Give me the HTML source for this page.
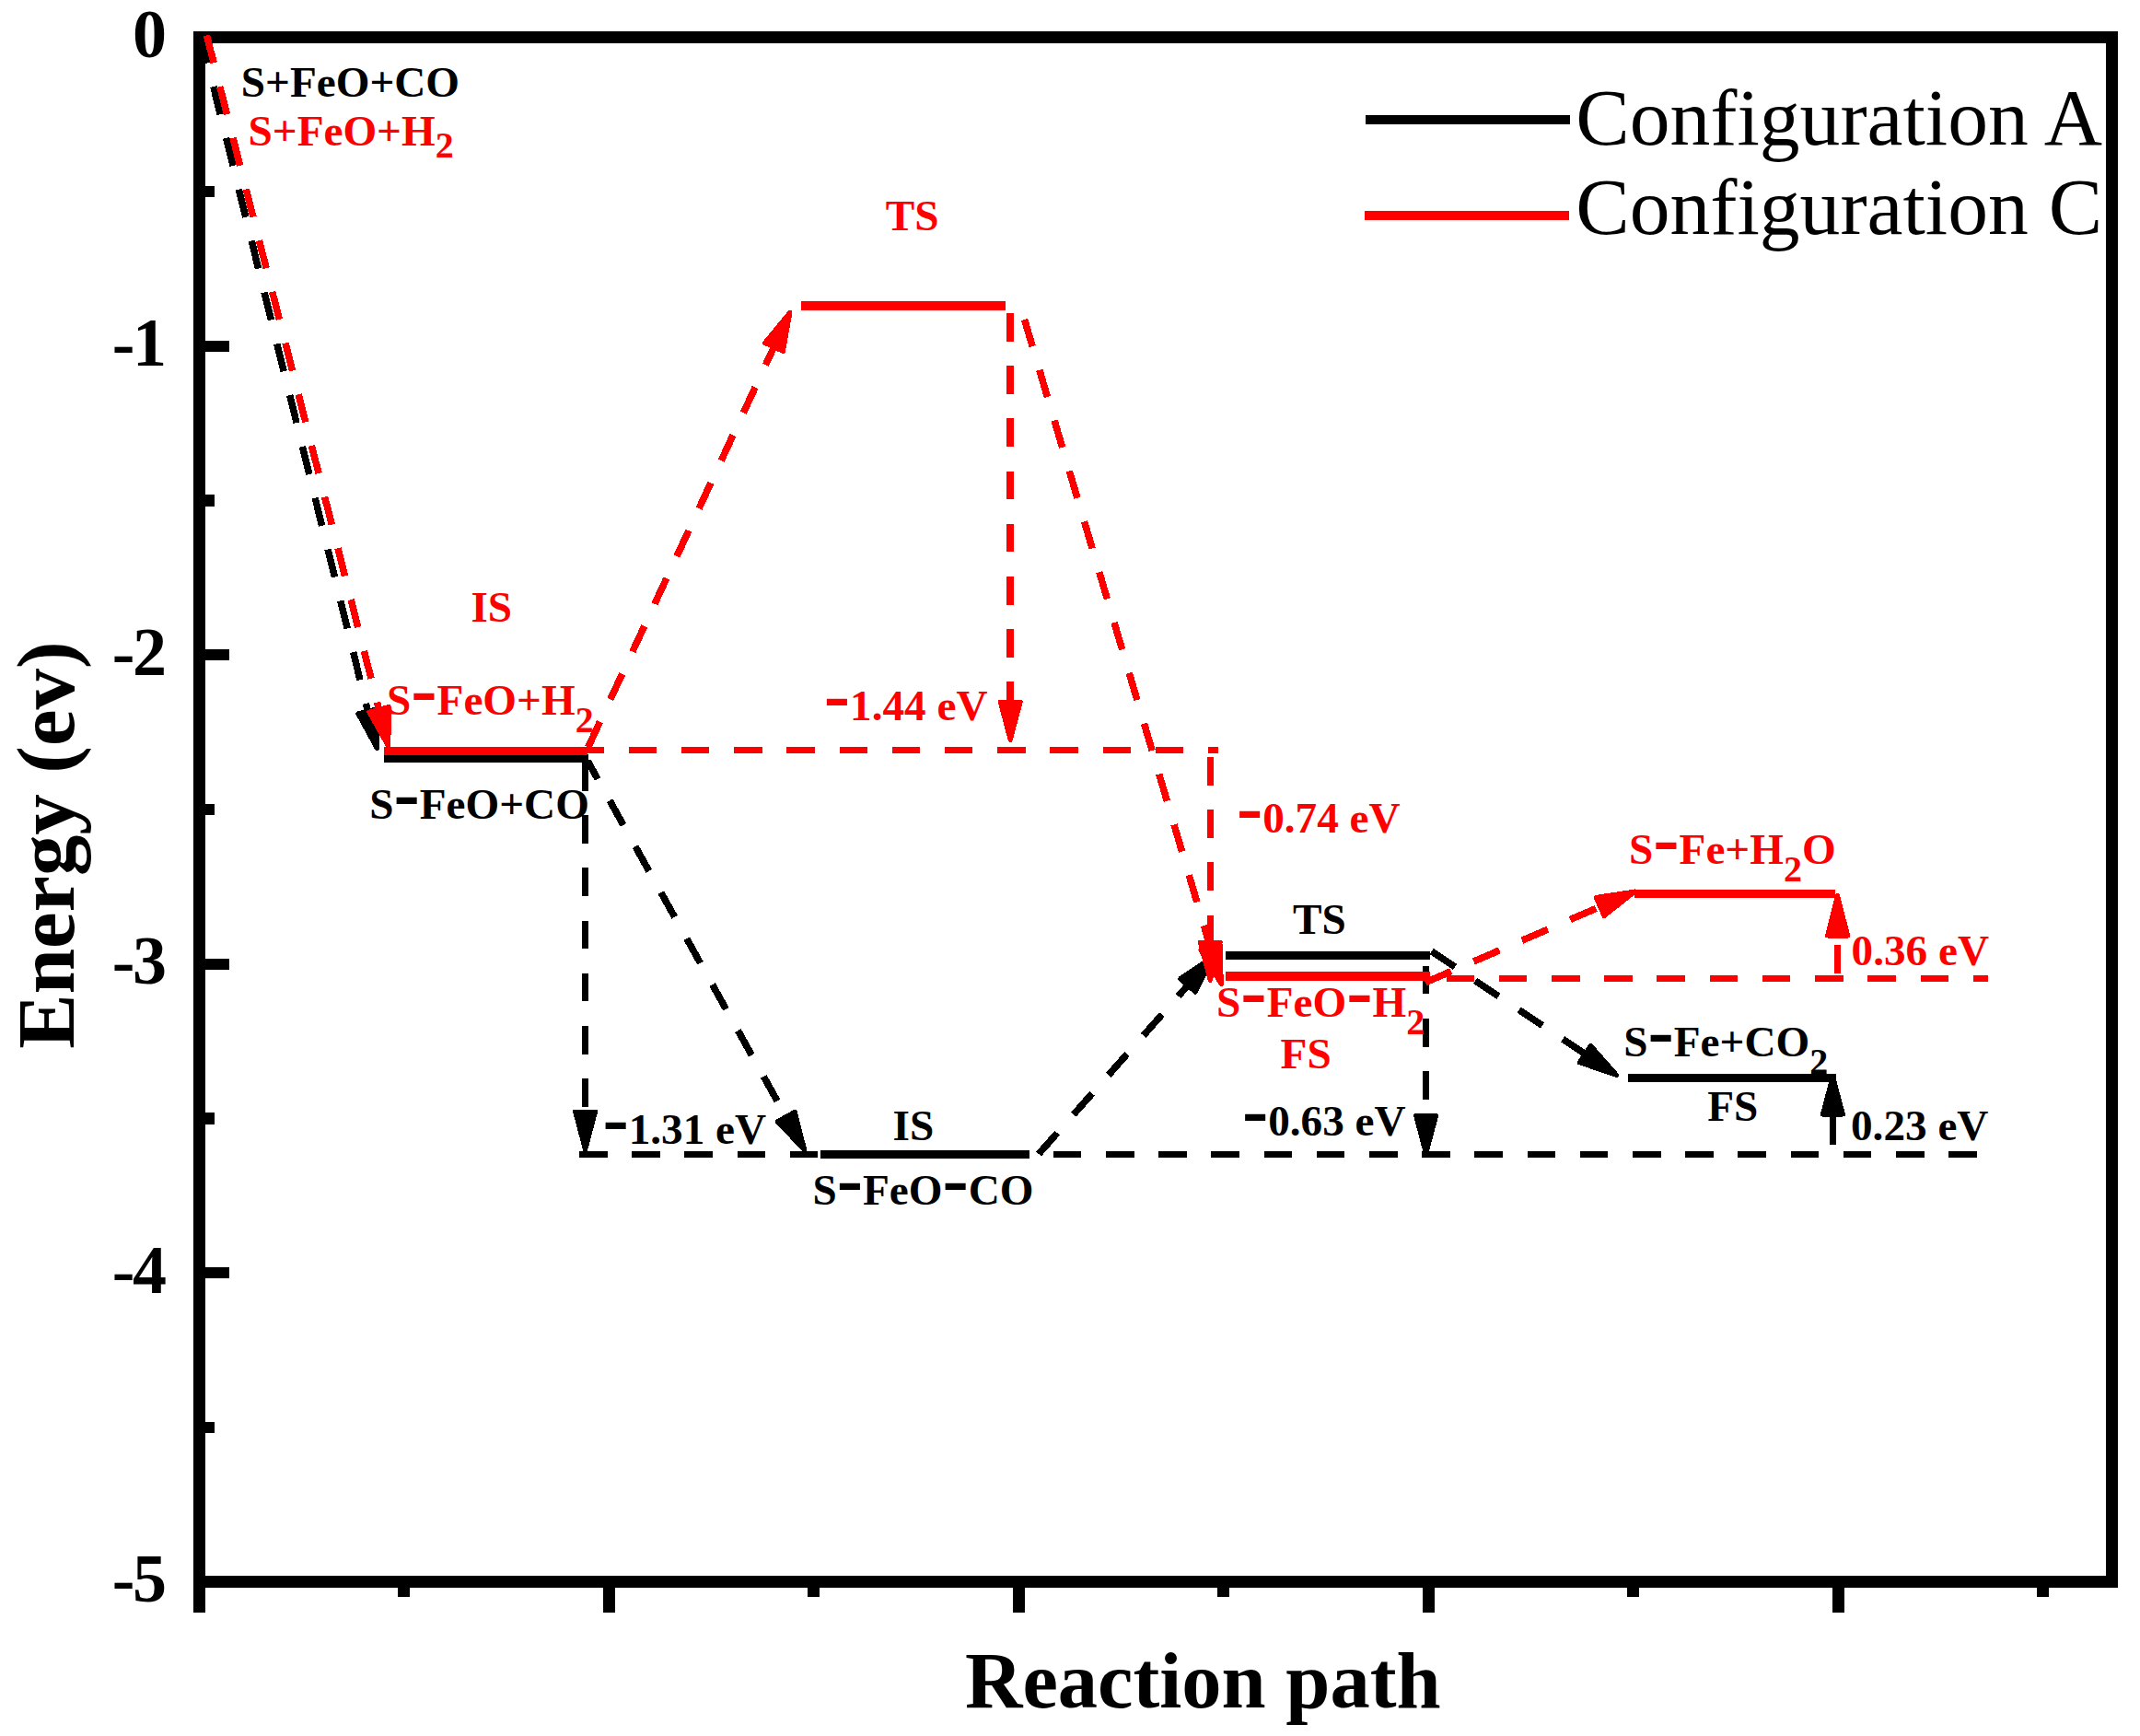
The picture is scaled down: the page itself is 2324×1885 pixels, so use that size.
<!DOCTYPE html>
<html><head><meta charset="utf-8"><title>Energy profile</title>
<style>
html,body{margin:0;padding:0;background:#fff;}
body{width:2324px;height:1885px;overflow:hidden;}
svg{display:block;font-family:"Liberation Serif","Times New Roman",serif;}
</style></head><body>
<svg width="2324" height="1885" viewBox="0 0 2324 1885" shape-rendering="crispEdges">
<rect width="2324" height="1885" fill="#fff"/>
<rect x="216.5" y="40.4" width="2077.1" height="1677.1999999999998" fill="none" stroke="#000" stroke-width="13"/>
<line x1="216.5" y1="1717.6" x2="216.5" y2="1751" stroke="#000000" stroke-width="13"/>
<text x="181" y="61.9" fill="#000000" font-size="74" font-weight="bold" text-anchor="end">0</text>
<line x1="216.5" y1="208.11999999999998" x2="233" y2="208.11999999999998" stroke="#000000" stroke-width="12.2"/>
<line x1="216.5" y1="375.8399999999999" x2="249" y2="375.8399999999999" stroke="#000000" stroke-width="12.2"/>
<text x="181" y="397.3" fill="#000000" font-size="74" font-weight="bold" text-anchor="end" dx="0 -2.5">-1</text>
<line x1="216.5" y1="543.56" x2="233" y2="543.56" stroke="#000000" stroke-width="12.2"/>
<line x1="216.5" y1="711.2799999999999" x2="249" y2="711.2799999999999" stroke="#000000" stroke-width="12.2"/>
<text x="181" y="732.8" fill="#000000" font-size="74" font-weight="bold" text-anchor="end" dx="0 -2.5">-2</text>
<line x1="216.5" y1="878.9999999999999" x2="233" y2="878.9999999999999" stroke="#000000" stroke-width="12.2"/>
<line x1="216.5" y1="1046.7199999999998" x2="249" y2="1046.7199999999998" stroke="#000000" stroke-width="12.2"/>
<text x="181" y="1068.2" fill="#000000" font-size="74" font-weight="bold" text-anchor="end" dx="0 -2.5">-3</text>
<line x1="216.5" y1="1214.4399999999998" x2="233" y2="1214.4399999999998" stroke="#000000" stroke-width="12.2"/>
<line x1="216.5" y1="1382.1599999999999" x2="249" y2="1382.1599999999999" stroke="#000000" stroke-width="12.2"/>
<text x="181" y="1403.7" fill="#000000" font-size="74" font-weight="bold" text-anchor="end" dx="0 -2.5">-4</text>
<line x1="216.5" y1="1549.8799999999999" x2="233" y2="1549.8799999999999" stroke="#000000" stroke-width="12.2"/>
<text x="181" y="1739.1" fill="#000000" font-size="74" font-weight="bold" text-anchor="end" dx="0 -2.5">-5</text>
<line x1="438.95" y1="1717.6" x2="438.95" y2="1733.7" stroke="#000000" stroke-width="13"/>
<line x1="661.4" y1="1717.6" x2="661.4" y2="1751" stroke="#000000" stroke-width="13"/>
<line x1="883.8499999999999" y1="1717.6" x2="883.8499999999999" y2="1733.7" stroke="#000000" stroke-width="13"/>
<line x1="1106.3" y1="1717.6" x2="1106.3" y2="1751" stroke="#000000" stroke-width="13"/>
<line x1="1328.75" y1="1717.6" x2="1328.75" y2="1733.7" stroke="#000000" stroke-width="13"/>
<line x1="1551.1999999999998" y1="1717.6" x2="1551.1999999999998" y2="1751" stroke="#000000" stroke-width="13"/>
<line x1="1773.6499999999999" y1="1717.6" x2="1773.6499999999999" y2="1733.7" stroke="#000000" stroke-width="13"/>
<line x1="1996.1" y1="1717.6" x2="1996.1" y2="1751" stroke="#000000" stroke-width="13"/>
<line x1="2218.55" y1="1717.6" x2="2218.55" y2="1733.7" stroke="#000000" stroke-width="13"/>
<text x="1306.3" y="1854" fill="#000000" font-size="86.5" font-weight="bold" text-anchor="middle">Reaction path</text>
<text transform="translate(80.2,917.6) rotate(-90)" font-size="89" font-weight="bold" text-anchor="middle">Energy (ev)</text>
<line x1="1483" y1="130" x2="1705" y2="130" stroke="#000000" stroke-width="9.9"/>
<line x1="1482" y1="234" x2="1704" y2="234" stroke="#ff0000" stroke-width="9.8"/>
<text x="1711.3" y="156.8" fill="#000000" font-size="87.6" font-weight="normal" text-anchor="start">Configuration A</text>
<text x="1711.3" y="253.5" fill="#000000" font-size="87.6" font-weight="normal" text-anchor="start">Configuration C</text>
<line x1="218" y1="38.3" x2="401.1" y2="778.9" stroke="#000000" stroke-width="7.5" stroke-dasharray="31 26.5" stroke-dashoffset="0"/>
<polygon points="409.4,812.6 388.8,774.9 410.1,769.6" fill="#000000" stroke="#000000" stroke-width="5.0" stroke-linejoin="round"/>
<line x1="416.5" y1="823.7" x2="638.6" y2="823.7" stroke="#000000" stroke-width="8.8"/>
<line x1="635.6" y1="828" x2="635.6" y2="1213.8" stroke="#000000" stroke-width="7.5" stroke-dasharray="30.5 26.7" stroke-dashoffset="0"/>
<polygon points="635.6,1248.5 624.6,1207.0 646.6,1207.0" fill="#000000" stroke="#000000" stroke-width="5.0" stroke-linejoin="round"/>
<line x1="638" y1="826" x2="856.9" y2="1218.5" stroke="#000000" stroke-width="7.5" stroke-dasharray="30.5 26.7" stroke-dashoffset="7.7"/>
<polygon points="873.8,1248.8 844.0,1217.9 863.2,1207.2" fill="#000000" stroke="#000000" stroke-width="5.0" stroke-linejoin="round"/>
<line x1="629" y1="1253.3" x2="2149.1" y2="1253.3" stroke="#000000" stroke-width="7.5" stroke-dasharray="30.5 26.7" stroke-dashoffset="0"/>
<line x1="891.2" y1="1253.2" x2="1117.8" y2="1253.2" stroke="#000000" stroke-width="8.8"/>
<line x1="1128" y1="1253" x2="1294.4" y2="1064.9" stroke="#000000" stroke-width="7.5" stroke-dasharray="30.5 26.7" stroke-dashoffset="0"/>
<polygon points="1317.3,1038.9 1298.1,1077.2 1281.6,1062.7" fill="#000000" stroke="#000000" stroke-width="5.0" stroke-linejoin="round"/>
<line x1="1331.2" y1="1037.5" x2="1552.9" y2="1037.5" stroke="#000000" stroke-width="8.8"/>
<line x1="1548.6" y1="1048.9" x2="1548.6" y2="1218.3" stroke="#000000" stroke-width="7.5" stroke-dasharray="30.5 26.7" stroke-dashoffset="0"/>
<polygon points="1548.6,1253.0 1537.6,1211.5 1559.6,1211.5" fill="#000000" stroke="#000000" stroke-width="5.0" stroke-linejoin="round"/>
<line x1="1554.6" y1="1033" x2="1727.1" y2="1148.3" stroke="#000000" stroke-width="7.5" stroke-dasharray="30.5 26.7" stroke-dashoffset="0"/>
<polygon points="1755.9,1167.6 1715.3,1153.7 1727.5,1135.4" fill="#000000" stroke="#000000" stroke-width="5.0" stroke-linejoin="round"/>
<line x1="1768.2" y1="1170.1" x2="1993.9" y2="1170.1" stroke="#000000" stroke-width="9.2"/>
<line x1="1990.4" y1="1242.5" x2="1990.4" y2="1203.2" stroke="#000000" stroke-width="7.5"/>
<polygon points="1990.4,1168.5 2001.4,1210.0 1979.4,1210.0" fill="#000000" stroke="#000000" stroke-width="5.0" stroke-linejoin="round"/>
<line x1="224.5" y1="38.3" x2="413.3" y2="777.0" stroke="#ff0000" stroke-width="7.5" stroke-dasharray="31 26.5" stroke-dashoffset="0"/>
<polygon points="421.9,810.6 400.9,773.1 422.3,767.6" fill="#ff0000" stroke="#ff0000" stroke-width="5.0" stroke-linejoin="round"/>
<line x1="416.5" y1="815.1" x2="637.8" y2="815.1" stroke="#ff0000" stroke-width="8.8"/>
<line x1="625.5" y1="814.4" x2="1322.6" y2="814.4" stroke="#ff0000" stroke-width="7.2" stroke-dasharray="30.5 26.7" stroke-dashoffset="0"/>
<line x1="637" y1="815" x2="843.3" y2="370.7" stroke="#ff0000" stroke-width="7.5" stroke-dasharray="30.5 26.7" stroke-dashoffset="-4"/>
<polygon points="857.9,339.3 850.4,381.5 830.5,372.3" fill="#ff0000" stroke="#ff0000" stroke-width="5.0" stroke-linejoin="round"/>
<line x1="870.3" y1="332" x2="1092" y2="332" stroke="#ff0000" stroke-width="10"/>
<line x1="1097.2" y1="340" x2="1097.2" y2="768.8" stroke="#ff0000" stroke-width="7.5" stroke-dasharray="30.5 26.7" stroke-dashoffset="0"/>
<polygon points="1097.2,803.5 1086.2,762.0 1108.2,762.0" fill="#ff0000" stroke="#ff0000" stroke-width="5.0" stroke-linejoin="round"/>
<line x1="1112" y1="345" x2="1316.4" y2="1035.3" stroke="#ff0000" stroke-width="7.5" stroke-dasharray="30.5 26.7" stroke-dashoffset="-2"/>
<polygon points="1326.3,1068.6 1304.0,1031.9 1325.1,1025.7" fill="#ff0000" stroke="#ff0000" stroke-width="5.0" stroke-linejoin="round"/>
<line x1="1314.3" y1="822" x2="1314.3" y2="1029.8" stroke="#ff0000" stroke-width="7.5" stroke-dasharray="30.5 26.7" stroke-dashoffset="0"/>
<polygon points="1314.3,1064.5 1303.3,1023.0 1325.3,1023.0" fill="#ff0000" stroke="#ff0000" stroke-width="5.0" stroke-linejoin="round"/>
<line x1="1331.2" y1="1060" x2="1552.9" y2="1060" stroke="#ff0000" stroke-width="10"/>
<line x1="1570.7" y1="1062.4" x2="2159.4" y2="1062.4" stroke="#ff0000" stroke-width="7.2" stroke-dasharray="30.5 26.7" stroke-dashoffset="0"/>
<line x1="1547.9" y1="1066.8" x2="1743.9" y2="981.8" stroke="#ff0000" stroke-width="7.5" stroke-dasharray="30.5 26.7" stroke-dashoffset="0"/>
<polygon points="1775.7,968.0 1742.0,994.6 1733.3,974.4" fill="#ff0000" stroke="#ff0000" stroke-width="5.0" stroke-linejoin="round"/>
<line x1="1775" y1="970.7" x2="1993" y2="970.7" stroke="#ff0000" stroke-width="9.3"/>
<line x1="1995.6" y1="1056.9" x2="1995.6" y2="1008.8" stroke="#ff0000" stroke-width="7.5" stroke-dasharray="30.5 26.7" stroke-dashoffset="0"/>
<polygon points="1995.6,972.5 2006.6,1016.0 1984.6,1016.0" fill="#ff0000" stroke="#ff0000" stroke-width="5.0" stroke-linejoin="round"/>
<text x="261.8" y="105.2" fill="#000000" font-size="47.2" font-weight="bold" text-anchor="start">S+FeO+CO</text>
<text x="269.5" y="158.2" fill="#ff0000" font-size="47.2" font-weight="bold" text-anchor="start">S+FeO+H<tspan dy="13" font-size="40">2</tspan></text>
<text x="511.5" y="675" fill="#ff0000" font-size="47.2" font-weight="bold" text-anchor="start">IS</text>
<text x="420" y="776.2" fill="#ff0000" font-size="47.2" font-weight="bold" text-anchor="start">S<tspan font-size="85">-</tspan>FeO+H<tspan dy="19" font-size="40">2</tspan></text>
<text x="401.2" y="889.1" fill="#000000" font-size="47.2" font-weight="bold" text-anchor="start">S<tspan font-size="85">-</tspan>FeO+CO</text>
<text x="961.8" y="250.2" fill="#ff0000" font-size="47.2" font-weight="bold" text-anchor="start">TS</text>
<text x="894.8" y="781.8" fill="#ff0000" font-size="47.2" font-weight="bold" text-anchor="start"><tspan font-size="85">-</tspan>1.44 eV</text>
<text x="654.4" y="1242" fill="#000000" font-size="47.2" font-weight="bold" text-anchor="start"><tspan font-size="85">-</tspan>1.31 eV</text>
<text x="969.6" y="1238.4" fill="#000000" font-size="47.2" font-weight="bold" text-anchor="start">IS</text>
<text x="882.4" y="1308" fill="#000000" font-size="47.2" font-weight="bold" text-anchor="start">S<tspan font-size="85">-</tspan>FeO<tspan font-size="85">-</tspan>CO</text>
<text x="1342.9" y="903.8" fill="#ff0000" font-size="47.2" font-weight="bold" text-anchor="start"><tspan font-size="85">-</tspan>0.74 eV</text>
<text x="1404" y="1014.2" fill="#000000" font-size="47.2" font-weight="bold" text-anchor="start">TS</text>
<text x="1321.1" y="1104.3" fill="#ff0000" font-size="47.2" font-weight="bold" text-anchor="start">S<tspan font-size="85">-</tspan>FeO<tspan font-size="85">-</tspan>H<tspan dy="19" font-size="40">2</tspan></text>
<text x="1390.6" y="1160.2" fill="#ff0000" font-size="47.2" font-weight="bold" text-anchor="start">FS</text>
<text x="1348.9" y="1233" fill="#000000" font-size="47.2" font-weight="bold" text-anchor="start"><tspan font-size="85">-</tspan>0.63 eV</text>
<text x="1769" y="937.9" fill="#ff0000" font-size="47.2" font-weight="bold" text-anchor="start">S<tspan font-size="85">-</tspan>Fe+H<tspan dy="19" font-size="40">2</tspan><tspan dy="-19">O</tspan></text>
<text x="1763.2" y="1146.5" fill="#000000" font-size="47.2" font-weight="bold" text-anchor="start">S<tspan font-size="85">-</tspan>Fe+CO<tspan dy="19" font-size="40">2</tspan></text>
<text x="1854.3" y="1217" fill="#000000" font-size="47.2" font-weight="bold" text-anchor="start">FS</text>
<text x="2010.6" y="1047.9" fill="#ff0000" font-size="47.2" font-weight="bold" text-anchor="start">0.36 eV</text>
<text x="2010" y="1238.4" fill="#000000" font-size="47.2" font-weight="bold" text-anchor="start">0.23 eV</text>
</svg></body></html>
